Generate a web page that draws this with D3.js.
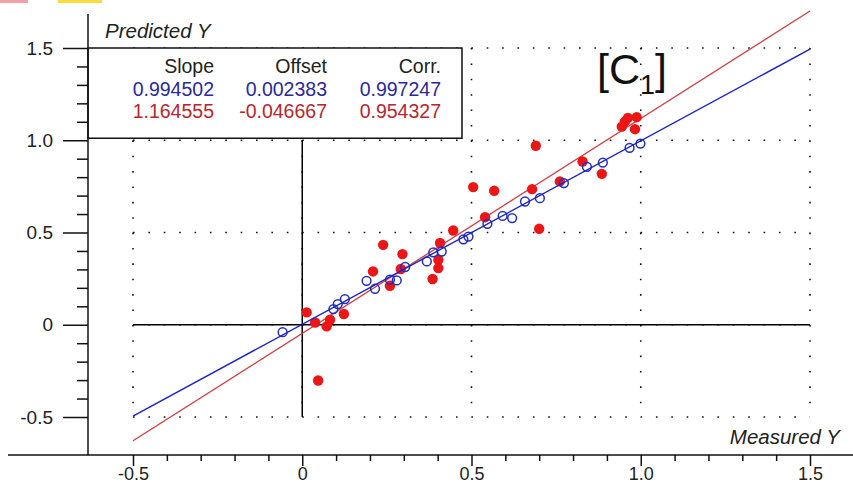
<!DOCTYPE html>
<html>
<head>
<meta charset="utf-8">
<script src="https://cdn.jsdelivr.net/npm/d3@7"></script>
<style>
  body { margin: 0; background: #fff; }
  svg { display: block; font-family: "Liberation Sans", Arial, sans-serif; }
</style>
</head>
<body>
<script>
// regression fits: blue = calibration, red = validation
const fitNames = ["Slope", "Offset", "Corr."];
const blueFit = [0.994502, 0.002383, 0.997247];
const redFit = [1.164555, -0.046667, 0.954327];

// open blue circles
const blueX = [-0.058, 0.092, 0.105, 0.126, 0.190, 0.215, 0.259, 0.279, 0.304, 0.368, 0.387, 0.412,
  0.476, 0.491, 0.547, 0.592, 0.620, 0.658, 0.702, 0.773, 0.841, 0.888, 0.967, 0.999];
const blueY = [-0.040, 0.085, 0.112, 0.139, 0.238, 0.195, 0.244, 0.240, 0.313, 0.343, 0.392, 0.397,
  0.463, 0.478, 0.547, 0.590, 0.578, 0.668, 0.686, 0.768, 0.856, 0.879, 0.959, 0.982];

// filled red dots
const redX = [0.013, 0.038, 0.072, 0.082, 0.123, 0.047, 0.209, 0.259, 0.239, 0.296, 0.291, 0.407,
  0.446, 0.402, 0.402, 0.385, 0.505, 0.567, 0.540, 0.679, 0.690, 0.700, 0.761, 0.828, 0.885,
  0.944, 0.953, 0.962, 0.988, 0.983];
const redY = [0.067, 0.012, -0.009, 0.027, 0.058, -0.302, 0.289, 0.211, 0.433, 0.383, 0.302, 0.443,
  0.511, 0.352, 0.307, 0.248, 0.746, 0.726, 0.583, 0.735, 0.970, 0.520, 0.777, 0.885, 0.818,
  1.074, 1.101, 1.121, 1.125, 1.060];

const majorTicks = [-0.5, 0, 0.5, 1.0, 1.5];
const minorTicks = d3.range(-5, 16).map(i => i / 10).filter(v => Math.abs(v * 2 - Math.round(v * 2)) > 1e-6);

const W = 853, H = 485;
const x = d3.scaleLinear([-0.5, 1.5], [133, 810]);
const y = d3.scaleLinear([-0.5, 1.5], [417, 48]);
const fmt = d => d === 0 ? "0" : d.toFixed(1);

const svg = d3.select("body").append("svg").attr("width", W).attr("height", H);

// little slide decorations in the corner
svg.append("rect").attr("x", 0).attr("y", 0).attr("width", 28).attr("height", 3).attr("fill", "#f4a0a8");
svg.append("rect").attr("x", 58).attr("y", 0).attr("width", 44).attr("height", 3).attr("fill", "#f8dc40");

// dotted grid
const dots = "1.6 13.78";
const grid = svg.append("g").attr("stroke", "#111").attr("stroke-width", 1.6).attr("stroke-dasharray", dots);
majorTicks.forEach(v => {
  grid.append("line").attr("x1", x(-0.5)).attr("x2", x(1.5)).attr("y1", y(v)).attr("y2", y(v));
  grid.append("line").attr("x1", x(v)).attr("x2", x(v)).attr("y1", y(1.5)).attr("y2", y(-0.5));
});

// solid cross at origin
svg.append("line").attr("x1", x(-0.5)).attr("x2", x(1.5)).attr("y1", y(0)).attr("y2", y(0))
  .attr("stroke", "#000").attr("stroke-width", 1.5);
svg.append("line").attr("x1", x(0)).attr("x2", x(0)).attr("y1", y(1.0)).attr("y2", y(-0.5))
  .attr("stroke", "#000").attr("stroke-width", 1.5);

// fit lines + points
const fitLine = f => [[-0.5, f[0] * -0.5 + f[1]], [1.5, f[0] * 1.5 + f[1]]];
const line = d3.line().x(d => x(d[0])).y(d => y(d[1]));

svg.append("path").attr("d", line(fitLine(redFit))).attr("fill", "none")
  .attr("stroke", "#d43a40").attr("stroke-width", 1.3);

svg.append("g").selectAll("circle").data(redX).join("circle")
  .attr("cx", d => x(d)).attr("cy", (d, i) => y(redY[i])).attr("r", 5.2)
  .attr("fill", "#ec1616");

svg.append("g").selectAll("circle").data(blueX).join("circle")
  .attr("cx", d => x(d)).attr("cy", (d, i) => y(blueY[i])).attr("r", 4.4)
  .attr("fill", "none").attr("stroke", "#2030c0").attr("stroke-width", 1.5);

svg.append("path").attr("d", line(fitLine(blueFit))).attr("fill", "none")
  .attr("stroke", "#1c22c8").attr("stroke-width", 1.4);

// stats box
const boxR = 462;
svg.append("rect").attr("x", 88).attr("y", y(1.5)).attr("width", boxR - 88)
  .attr("height", y(1.0) - 2 - y(1.5))
  .attr("fill", "#fff").attr("stroke", "#111").attr("stroke-width", 1.5);

const colX = [214, 327, 441];
const rowY = [73, 96, 118];
const stats = svg.append("g").attr("font-size", 19.5).attr("text-anchor", "end");
[fitNames, blueFit.map((v, i) => v.toFixed(6)), redFit.map(v => v.toFixed(6))].forEach((row, r) => {
  stats.selectAll(null).data(row).join("text")
    .attr("x", (d, i) => colX[i]).attr("y", rowY[r])
    .attr("fill", ["#222", "#2a2a9a", "#b8262c"][r])
    .text(d => d);
});

// axes
const left = svg.append("g").attr("transform", "translate(88,0)");
left.call(d3.axisLeft(y).tickValues(majorTicks).tickFormat(fmt).tickSize(25).tickPadding(10));
left.append("g").call(d3.axisLeft(y).tickValues(minorTicks).tickFormat("").tickSize(11));
left.selectAll(".domain").remove();
left.selectAll("line").attr("stroke", "#111").attr("stroke-width", 1.5);
left.selectAll("text").attr("font-size", 19).attr("fill", "#222").attr("font-family", null);

const bottom = svg.append("g").attr("transform", "translate(0,455)");
bottom.call(d3.axisBottom(x).tickValues(majorTicks).tickFormat(fmt).tickSize(11));
bottom.append("g").call(d3.axisBottom(x).tickValues(minorTicks).tickFormat("").tickSize(6));
bottom.selectAll(".domain").remove();
bottom.selectAll("line").attr("stroke", "#111").attr("stroke-width", 1.5);
bottom.selectAll("text").attr("font-size", 18).attr("fill", "#222").attr("font-family", null).attr("y", 12);

svg.append("line").attr("x1", 88).attr("x2", 88).attr("y1", 14).attr("y2", 455)
  .attr("stroke", "#111").attr("stroke-width", 1.5);
svg.append("line").attr("x1", 8).attr("x2", W).attr("y1", 455).attr("y2", 455)
  .attr("stroke", "#111").attr("stroke-width", 1.5);

svg.append("text").attr("x", 105).attr("y", 38).attr("font-size", 20.5).attr("font-style", "italic")
  .attr("fill", "#222").text("Predicted Y");
svg.append("text").attr("x", 840).attr("y", 444).attr("font-size", 20.5).attr("font-style", "italic")
  .attr("text-anchor", "end").attr("fill", "#222").text("Measured Y");

// [C1] label
const lab = svg.append("text").attr("x", 597).attr("y", 84).attr("font-size", 43).attr("fill", "#111");
lab.append("tspan").text("[C");
lab.append("tspan").attr("font-size", 27).attr("dy", 10).text("1");
lab.append("tspan").attr("dy", -10).text("]");
</script>
</body>
</html>
